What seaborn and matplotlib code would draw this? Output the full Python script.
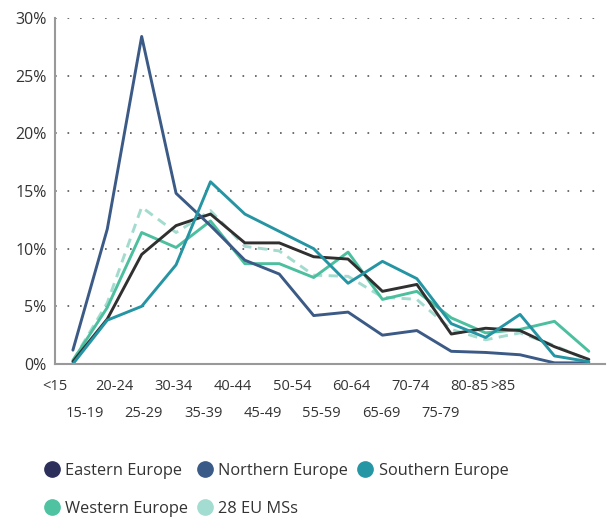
import numpy as np
import pandas as pd
import matplotlib.pyplot as plt
import seaborn as sns
from matplotlib.lines import Line2D

# age groups and shares (%)
age_groups = ['<15', '15-19', '20-24', '25-29', '30-34', '35-39', '40-44', '45-49',
              '50-54', '55-59', '60-64', '65-69', '70-74', '75-79', '80-85', '>85']
eastern = [0.2, 3.9, 9.5, 12.0, 13.0, 10.5, 10.5, 9.3, 9.1, 6.3, 6.9, 2.6, 3.1, 2.9, 1.5, 0.4]
northern = [1.2, 11.7, 28.4, 14.8, 12.0, 9.0, 7.8, 4.2, 4.5, 2.5, 2.9, 1.1, 1.0, 0.8, 0.1, 0.1]
southern = [0.0, 3.8, 5.0, 8.6, 15.8, 13.0, 11.5, 10.0, 7.0, 8.9, 7.4, 3.5, 2.3, 4.3, 0.7, 0.2]
western = [0.3, 4.9, 11.4, 10.1, 12.4, 8.7, 8.7, 7.5, 9.7, 5.6, 6.3, 4.0, 2.7, 3.0, 3.7, 1.1]
eu28 = [0.3, 5.3, 13.6, 11.4, 13.3, 10.2, 9.8, 7.7, 7.6, 5.8, 5.6, 3.0, 2.1, 2.7, 1.6, 0.3]

sns.set_style('white')
plt.rcParams['font.family'] = ['Open Sans', 'DejaVu Sans']
plt.rcParams['text.color'] = '#333333'

fig = plt.figure(figsize=(6.12, 5.18), dpi=100)
ax = fig.add_axes([55 / 612, 1 - 364 / 518, 550 / 612, 346 / 518])

x = np.arange(len(age_groups))

# series drawn bottom to top
series = [
    ('28 EU MSs', eu28, '#a3dbcf', (0, (3.2, 2.2)), '#a3dcd0'),
    ('Western Europe', western, '#4cbf9e', '-', '#4fc2a2'),
    ('Eastern Europe', eastern, '#303030', '-', '#2b2f5a'),
    ('Northern Europe', northern, '#3b5a86', '-', '#3a5a87'),
    ('Southern Europe', southern, '#2595a4', '-', '#2596a3'),
]
for name, vals, col, ls, _ in series:
    df = pd.DataFrame({'x': x, 'y': vals})
    sns.lineplot(data=df, x='x', y='y', ax=ax, color=col, linewidth=2.1,
                 linestyle=ls, legend=False)

ax.set_xlim(-0.52, 15.47)
ax.set_ylim(0, 30)
ax.set_yticks(range(0, 31, 5))
ax.set_yticklabels([f'{v}%' for v in range(0, 31, 5)], fontsize=11.5, color='#333333')
ax.yaxis.grid(True, color='#555555', linestyle=(0, (1, 6.5)), linewidth=1.2)
ax.set_axisbelow(True)

# tick labels sit on their own (tighter) grid, staggered in two rows
label_pos = list(np.linspace(-0.52, 11.54, len(age_groups) - 1)) + [12.5]
ax.set_xticks(label_pos)
ax.set_xticklabels(age_groups, fontsize=10.5, color='#333333')
for i, t in enumerate(ax.xaxis.get_major_ticks()):
    lower = i % 2 == 1 and i != len(age_groups) - 1
    t.set_pad(30 if lower else 11)
ax.tick_params(axis='both', length=0)
ax.tick_params(axis='y', pad=6)
ax.set_xlabel('')
ax.set_ylabel('')

for s in ['top', 'right']:
    ax.spines[s].set_visible(False)
for s in ['left', 'bottom']:
    ax.spines[s].set_color('#999999')
    ax.spines[s].set_linewidth(1.5)

# legend: circle markers, order filled column-wise
lookup = {s[0]: s[4] for s in series}
order = ['Eastern Europe', 'Western Europe', 'Northern Europe', '28 EU MSs', 'Southern Europe']
handles = [Line2D([], [], marker='o', linestyle='', markersize=11,
                  markerfacecolor=lookup[n], markeredgecolor=lookup[n]) for n in order]
fig.legend(handles, order, loc='upper left', bbox_to_anchor=(29 / 612, 1 - 448 / 518),
           ncol=3, frameon=False, fontsize=11.8, handletextpad=0.3,
           columnspacing=0.55, labelspacing=1.35, handlelength=1.0)

fig.savefig('out.png', dpi=100)
